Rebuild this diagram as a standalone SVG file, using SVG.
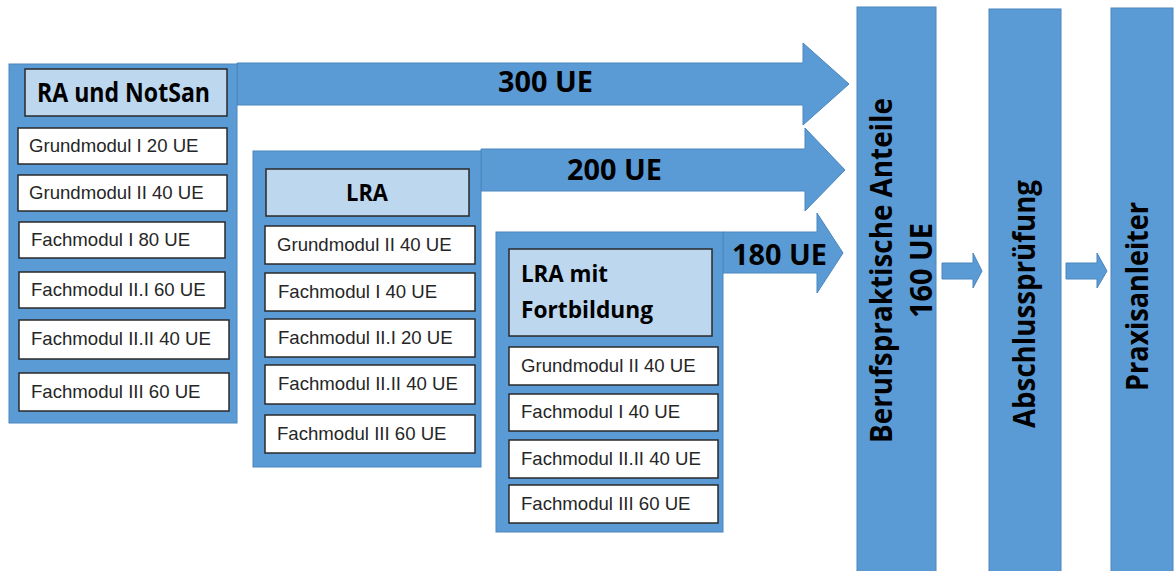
<svg xmlns="http://www.w3.org/2000/svg" width="1174" height="571" viewBox="0 0 1174 571">
<style>
.blue{fill:#5b9bd5;stroke:#4a86bd;stroke-width:1}
.hdr{fill:#bdd7ee;stroke:#2a2a2a;stroke-width:1.5}
.mod{fill:#ffffff;stroke:#2a2a2a;stroke-width:1.5}
.mt{font-family:"Liberation Sans",Arial,sans-serif;font-size:18.6px;fill:#262626}
.bt{font-family:"Open Sans","Noto Sans",sans-serif;font-weight:bold;fill:#000}
</style>
<rect width="1174" height="571" fill="#ffffff"/>
<g id="connectors">
<path class="blue" d="M237,63 H803 V43 L849,84 L803,125 V105 H237 Z"/>
<path class="blue" d="M481,149 H805 V128 L845,170 L805,211 V191 H481 Z"/>
<path class="blue" d="M723,232 H817 V213 L843,253 L817,293 V273 H723 Z"/>
<path class="blue" d="M942,263 H973 V253 L982,271 L973,288 V279 H942 Z"/>
<path class="blue" d="M1066,263 H1097 V253 L1107,271 L1097,288 V279 H1066 Z"/>
<text class="bt" x="498" y="92" font-size="29" textLength="95" lengthAdjust="spacingAndGlyphs">300 UE</text>
<text class="bt" x="567" y="180" font-size="29" textLength="95" lengthAdjust="spacingAndGlyphs">200 UE</text>
<text class="bt" x="732" y="265" font-size="29" textLength="95" lengthAdjust="spacingAndGlyphs">180 UE</text>
</g>
<g id="ra-notsan">
<rect class="blue" x="9" y="64" width="228" height="359"/>
<rect class="hdr" x="25" y="69" width="202" height="47"/>
<text class="bt" x="37" y="102" font-size="26" textLength="173" lengthAdjust="spacingAndGlyphs">RA und NotSan</text>
<rect class="mod" x="18" y="128" width="209" height="36"/>
<text class="mt" x="29" y="151.5">Grundmodul I 20 UE</text>
<rect class="mod" x="18" y="175" width="209" height="36"/>
<text class="mt" x="29" y="198.5">Grundmodul II 40 UE</text>
<rect class="mod" x="19" y="222" width="206" height="36"/>
<text class="mt" x="31" y="245.5">Fachmodul I 80 UE</text>
<rect class="mod" x="19" y="272" width="206" height="36"/>
<text class="mt" x="31" y="295.5">Fachmodul II.I 60 UE</text>
<rect class="mod" x="19" y="320" width="210" height="39"/>
<text class="mt" x="31" y="345">Fachmodul II.II 40 UE</text>
<rect class="mod" x="19" y="373" width="210" height="38"/>
<text class="mt" x="31" y="397.5">Fachmodul III 60 UE</text>
</g>
<g id="lra">
<rect class="blue" x="253" y="151" width="228" height="316"/>
<rect class="hdr" x="266" y="169" width="203" height="47"/>
<text class="bt" x="367" y="201" font-size="24" text-anchor="middle" textLength="42" lengthAdjust="spacingAndGlyphs">LRA</text>
<rect class="mod" x="265" y="226" width="210" height="38"/>
<text class="mt" x="277" y="250.5">Grundmodul II 40 UE</text>
<rect class="mod" x="265" y="273" width="210" height="38"/>
<text class="mt" x="278" y="297.5">Fachmodul I 40 UE</text>
<rect class="mod" x="265" y="319" width="210" height="38"/>
<text class="mt" x="278" y="343.5">Fachmodul II.I 20 UE</text>
<rect class="mod" x="265" y="365" width="210" height="39"/>
<text class="mt" x="278" y="390">Fachmodul II.II 40 UE</text>
<rect class="mod" x="265" y="415" width="210" height="38"/>
<text class="mt" x="277" y="439.5">Fachmodul III 60 UE</text>
</g>
<g id="lra-fortbildung">
<rect class="blue" x="496" y="232" width="227" height="300"/>
<rect class="hdr" x="509" y="249" width="203" height="87"/>
<text class="bt" x="521" y="282" font-size="24" textLength="87" lengthAdjust="spacingAndGlyphs">LRA mit</text>
<text class="bt" x="521" y="318" font-size="24" textLength="132" lengthAdjust="spacingAndGlyphs">Fortbildung</text>
<rect class="mod" x="509" y="347" width="209" height="38"/>
<text class="mt" x="521" y="371.5">Grundmodul II 40 UE</text>
<rect class="mod" x="509" y="394" width="209" height="37"/>
<text class="mt" x="521" y="418">Fachmodul I 40 UE</text>
<rect class="mod" x="509" y="440" width="209" height="38"/>
<text class="mt" x="521" y="464.5">Fachmodul II.II 40 UE</text>
<rect class="mod" x="509" y="485" width="209" height="38"/>
<text class="mt" x="521" y="509.5">Fachmodul III 60 UE</text>
</g>
<g id="berufspraktische-anteile">
<rect class="blue" x="857" y="7" width="79" height="570"/>
<text class="bt" transform="translate(892,270.5) rotate(-90)" text-anchor="middle" font-size="30" textLength="345" lengthAdjust="spacingAndGlyphs">Berufspraktische  Anteile</text>
<text class="bt" transform="translate(932,270.5) rotate(-90)" text-anchor="middle" font-size="30" textLength="95" lengthAdjust="spacingAndGlyphs">160 UE</text>
</g>
<g id="abschlusspruefung">
<rect class="blue" x="989" y="9" width="72" height="570"/>
<text class="bt" transform="translate(1035,304) rotate(-90)" text-anchor="middle" font-size="30" textLength="248" lengthAdjust="spacingAndGlyphs">Abschlussprüfung</text>
</g>
<g id="praxisanleiter">
<rect class="blue" x="1111" y="8" width="62" height="570"/>
<text class="bt" transform="translate(1148,296.5) rotate(-90)" text-anchor="middle" font-size="30" textLength="189" lengthAdjust="spacingAndGlyphs">Praxisanleiter</text>
</g>
</svg>
